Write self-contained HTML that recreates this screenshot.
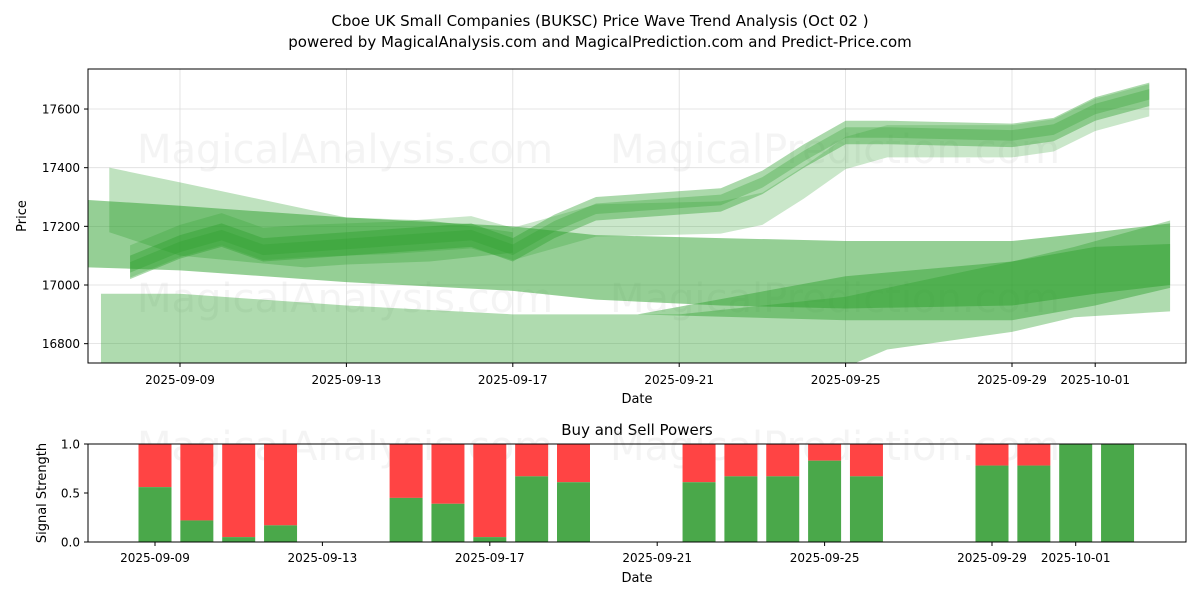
<!DOCTYPE html>
<html><head><meta charset="utf-8"><style>
body{margin:0;background:#fff;font-family:"Liberation Sans","DejaVu Sans",sans-serif;}
svg text{font-family:"DejaVu Sans","Liberation Sans",sans-serif;}
</style></head><body>
<svg id="c" width="1200" height="600" xmlns="http://www.w3.org/2000/svg">
<rect width="1200" height="600" fill="#fff"/>
<text x="600" y="26" text-anchor="middle" font-size="15">Cboe UK Small Companies (BUKSC) Price Wave Trend Analysis (Oct 02 )</text>
<text x="600" y="47" text-anchor="middle" font-size="15">powered by MagicalAnalysis.com and MagicalPrediction.com and Predict-Price.com</text>
<defs><clipPath id="cp1"><rect x="88" y="69" width="1098" height="294"/></clipPath></defs>
<g id="topPanel"></g>
<g id="botPanel"></g>
</svg>
<script>
const priceTicks=[16800,17000,17200,17400,17600];
const dateTickLabels=["2025-09-09","2025-09-13","2025-09-17","2025-09-21","2025-09-25","2025-09-29","2025-10-01"];
const dateTickDays=[0,4,8,12,16,20,22];
const bandADays=[-1.2,0,1,2,3,5,7,8,9,10,13,14,15,16,17,20,21,22,23.3];
const bandACenter=[17060,17130,17170,17120,17130,17150,17170,17120,17200,17260,17290,17350,17440,17520,17520,17510,17530,17600,17650];
const bandA2Center=[17080,17150,17190,17140,17150,17160,17180,17140,17180,17220,17230,17260,17350,17450,17490,17490,17510,17580,17630];
const bandBDays=[-2.2,0,4,8,10,13,16,20,22,23.8];
const bandBUpper=[17290,17270,17230,17200,17170,17160,17150,17150,17180,17210];
const bandBLower=[17060,17050,17010,16980,16950,16930,16920,16930,16970,17000];
const bandCDays=[-1.9,0,4,8,12,16,17,20,21.5,23.8];
const bandCUpper=[16970,16970,16930,16900,16900,16960,16990,17080,17130,17220];
const bandCLower=[16600,16600,16600,16600,16600,16720,16780,16840,16890,16910];
const bandDDays=[11,16,20,22,23.8];
const bandDUpper=[16900,17030,17080,17130,17140];
const bandDLower=[16900,16880,16880,16930,16990];
const bandEDays=[-1.7,0,3,4,6,8];
const bandEUpper=[17400,17350,17260,17230,17220,17180];
const bandELower=[17180,17100,17060,17070,17080,17110];
const barDays=[0,1,2,3,6,7,8,9,10,13,14,15,16,17,20,21,22,23];
const buyVals=[0.56,0.22,0.05,0.17,0.45,0.39,0.05,0.67,0.61,0.61,0.67,0.67,0.83,0.67,0.78,0.78,1,1];
const sigTicks=[0,0.5,1];

const NS="http://www.w3.org/2000/svg";
function mk(t,a,p){const e=document.createElementNS(NS,t);for(const k in a)e.setAttribute(k,a[k]);p.appendChild(e);return e;}
const tp=document.getElementById('topPanel'),bt=document.getElementById('botPanel');
const X=d=>180+41.6*d, Y=p=>285-(p-17000)*0.2933;
const X2=d=>155+41.85*d, Y2=v=>542-98*v;

dateTickDays.forEach((d,i)=>{
 const l=mk('line',{x1:X(d),x2:X(d),y1:69,y2:363,stroke:'#ddd','stroke-width':0.8},tp);
 
 
 mk('line',{x1:X(d),x2:X(d),y1:363,y2:367,stroke:'#000'},tp);
 const t=mk('text',{x:X(d),y:384,'text-anchor':'middle','font-size':12},tp);t.textContent=dateTickLabels[i];
 
 
});
priceTicks.forEach(p=>{
 mk('line',{x1:88,x2:1186,y1:Y(p),y2:Y(p),stroke:'#ddd','stroke-width':0.8},tp);
 mk('line',{x1:84,x2:88,y1:Y(p),y2:Y(p),stroke:'#000'},tp);
 const t=mk('text',{x:80,y:Y(p)+4.5,'text-anchor':'end','font-size':12},tp);t.textContent=p;
 
 
});
[[345,163],[835,163],[345,312],[835,312]].forEach((w,i)=>{
 const t=mk('text',{x:w[0],y:w[1],'text-anchor':'middle','font-size':40,fill:'#ccc','fill-opacity':0.22},tp);
 t.textContent=i%2==0?'MagicalAnalysis.com':'MagicalPrediction.com';
 
 
});
const g=mk('g',{'clip-path':'url(#cp1)'},tp);
function band(days,up,lo,op,name){
 let pts=days.map((d,i)=>X(d)+','+Y(up[i]));
 pts=pts.concat(days.map((d,i)=>X(d)+','+Y(lo[i])).reverse());
 const e=mk('polygon',{points:pts.join(' '),fill:'#2ca02c','fill-opacity':op},g);
 
 
}
band(bandCDays,bandCUpper,bandCLower,0.38,'wave-band-lower');
band(bandBDays,bandBUpper,bandBLower,0.5,'wave-band-middle');
band(bandDDays,bandDUpper,bandDLower,0.45,'wave-band-rising-lower');
band(bandEDays,bandEUpper,bandELower,0.3,'wave-band-fan');
band(bandADays,bandA2Center.map(v=>v+55),bandA2Center.map(v=>v-55),0.25,'wave-band-upper-wide');
band(bandADays,bandACenter.map(v=>v+40),bandACenter.map(v=>v-40),0.4,'wave-band-upper');
band(bandADays,bandACenter.map(v=>v+18),bandACenter.map(v=>v-18),0.3,'wave-band-upper-core');
mk('rect',{x:88,y:69,width:1098,height:294,fill:'none',stroke:'#000','stroke-width':1},tp);
let t=mk('text',{x:637,y:403,'text-anchor':'middle','font-size':13},tp);t.textContent='Date';


t=mk('text',{x:26,y:216,'text-anchor':'middle','font-size':13,transform:'rotate(-90 26 216)'},tp);t.textContent='Price';



t=mk('text',{x:637,y:435,'text-anchor':'middle','font-size':15},bt);t.textContent='Buy and Sell Powers';


[[345,460],[835,460]].forEach((w,i)=>{
 const e=mk('text',{x:w[0],y:w[1],'text-anchor':'middle','font-size':40,fill:'#ccc','fill-opacity':0.22},bt);
 e.textContent=i==0?'MagicalAnalysis.com':'MagicalPrediction.com';
 
 
});
barDays.forEach((d,i)=>{
 const v=buyVals[i],x=X2(d)-16.5;
 const r=mk('rect',{x:x,y:Y2(1),width:33,height:Y2(v)-Y2(1),fill:'#ff4444'},bt);
 
 
 const b=mk('rect',{x:x,y:Y2(v),width:33,height:Y2(0)-Y2(v),fill:'#4aa84a'},bt);
 
 
});
dateTickDays.forEach((d,i)=>{
 mk('line',{x1:X2(d),x2:X2(d),y1:542,y2:546,stroke:'#000'},bt);
 const e=mk('text',{x:X2(d),y:562,'text-anchor':'middle','font-size':12},bt);e.textContent=dateTickLabels[i];
 
 
});
sigTicks.forEach(v=>{
 mk('line',{x1:84,x2:88,y1:Y2(v),y2:Y2(v),stroke:'#000'},bt);
 const e=mk('text',{x:80,y:Y2(v)+4.5,'text-anchor':'end','font-size':12},bt);e.textContent=v.toFixed(1);
 
 
});
mk('rect',{x:88,y:444,width:1098,height:98,fill:'none',stroke:'#000','stroke-width':1},bt);
t=mk('text',{x:637,y:582,'text-anchor':'middle','font-size':13},bt);t.textContent='Date';


t=mk('text',{x:46,y:493,'text-anchor':'middle','font-size':13,transform:'rotate(-90 46 493)'},bt);t.textContent='Signal Strength';


</script>
</body></html>
